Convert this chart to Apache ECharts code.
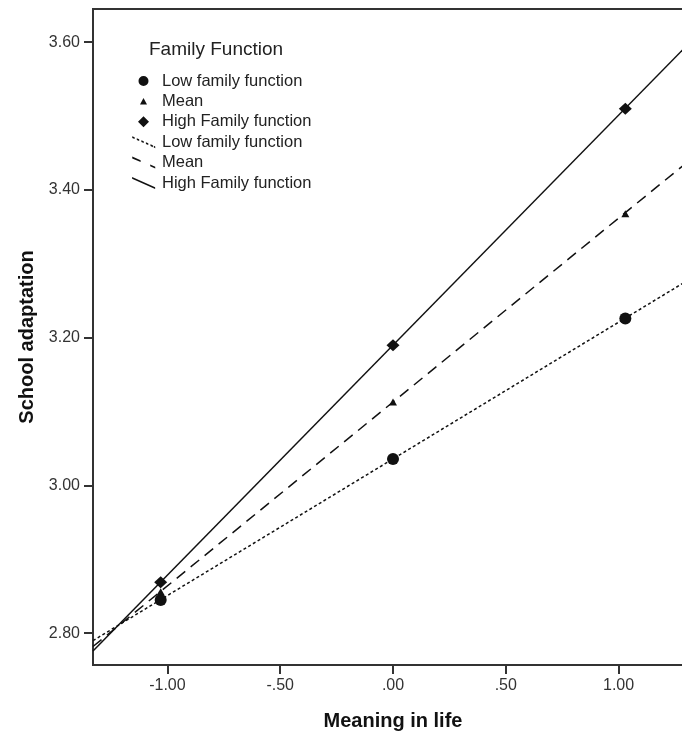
<!DOCTYPE html>
<html>
<head>
<meta charset="utf-8">
<script src="https://cdn.jsdelivr.net/npm/echarts@6/dist/echarts.min.js"></script>
<style>
html,body{margin:0;padding:0;background:#fff;}
#chart{width:682px;height:734px;}
</style>
</head>
<body>
<div id="chart"></div>
<script>
// ---- data ----
const meaningX = [-1.03, 0.00, 1.03];
const lowFamily = [2.845, 3.036, 3.226];
const meanFamily = [2.856, 3.113, 3.368];
const highFamily = [2.869, 3.190, 3.510];
const lineX = [-1.33, 1.33];
const lowLine = [2.790, 3.282];
const meanLine = [2.782, 3.444];
const highLine = [2.776, 3.604];
const xTicks = [-1.00, -0.50, 0.00, 0.50, 1.00];
const yTicks = [2.80, 3.00, 3.20, 3.40, 3.60];
const legendTitle = 'Family Function';
const legendLabels = {
  lowPt: 'Low family function',
  meanPt: 'Mean',
  highPt: 'High Family function',
  lowLn: 'Low family function',
  meanLn: 'Mean',
  highLn: 'High Family function'
};

const zip = (xs, ys) => xs.map((x, i) => [x, ys[i]]);
const FONT = "'Liberation Sans', Arial, sans-serif";
const INK = '#111';

// legend icon helpers (styling only)
const BOX = 'M0,0ZM27,12Z';
function slanted(segs) {
  const h = 1.0;
  let p = BOX;
  segs.forEach(([a, b]) => {
    const x0 = 27 * a, y0 = 12 * a, x1 = 27 * b, y1 = 12 * b;
    p += `M${x0},${y0 - h}L${x1},${y1 - h}L${x1},${y1 + h}L${x0},${y0 + h}Z`;
  });
  return 'path://' + p;
}
const icons = {
  lowPt: 'path://' + BOX + 'M8.5,6A5,5 0 1 0 18.5,6A5,5 0 1 0 8.5,6Z',
  meanPt: 'path://' + BOX + 'M13.5,2.5L17,9L10,9Z',
  highPt: 'path://' + BOX + 'M13.5,0.5L19,6L13.5,11.5L8,6Z',
  lowLn: slanted([[0.03, 0.13], [0.22, 0.32], [0.41, 0.51], [0.6, 0.7], [0.79, 0.89], [0.93, 0.99]]),
  meanLn: slanted([[0.03, 0.38], [0.78, 0.99]]),
  highLn: slanted([[0.02, 0.99]])
};

const chart = echarts.init(document.getElementById('chart'), null, {renderer: 'canvas'});

const lbl = v => v.toFixed(2).replace(/^(-?)0\./, '$1.');

chart.setOption({
  animation: false,
  backgroundColor: '#fff',
  title: {
    text: legendTitle,
    left: 149,
    top: 40,
    padding: 0,
    textStyle: {fontFamily: FONT, fontSize: 19, fontWeight: 'normal', color: '#222'}
  },
  legend: {
    orient: 'vertical',
    left: 130,
    top: 72.5,
    padding: 0,
    itemWidth: 27,
    itemHeight: 12,
    itemGap: 3.4,
    selectedMode: false,
    formatter: name => legendLabels[name],
    textStyle: {fontFamily: FONT, fontSize: 16.5, color: '#222', lineHeight: 17},
    data: ['lowPt', 'meanPt', 'highPt', 'lowLn', 'meanLn', 'highLn'].map(n => ({
      name: n, icon: icons[n], itemStyle: {color: INK, borderWidth: 0}
    }))
  },
  grid: {
    left: 93, top: 9, width: 600, height: 656,
    outerBoundsMode: 'none',
    containLabel: false,
    show: true, borderColor: '#333', borderWidth: 2, backgroundColor: '#fff'
  },
  xAxis: {
    type: 'value',
    min: lineX[0], max: lineX[1],
    name: 'Meaning in life',
    nameLocation: 'middle',
    nameGap: 46,
    nameTextStyle: {fontFamily: FONT, fontSize: 20, fontWeight: 'bold', color: '#111'},
    axisLine: {show: true, onZero: false, lineStyle: {color: '#333', width: 2}},
    axisTick: {show: true, length: 9, lineStyle: {color: '#333', width: 2}, customValues: xTicks},
    axisLabel: {margin: 13, fontFamily: FONT, fontSize: 16, color: '#333', customValues: xTicks, formatter: lbl},
    splitLine: {show: false}
  },
  yAxis: {
    type: 'value',
    min: 2.757, max: 3.645,
    name: 'School adaptation',
    nameLocation: 'middle',
    nameGap: 55,
    nameTextStyle: {fontFamily: FONT, fontSize: 20, fontWeight: 'bold', color: '#111'},
    axisLine: {show: true, onZero: false, lineStyle: {color: '#333', width: 2}},
    axisTick: {show: true, length: 9, lineStyle: {color: '#333', width: 2}, customValues: yTicks},
    axisLabel: {margin: 13, fontFamily: FONT, fontSize: 16, color: '#333', customValues: yTicks, formatter: lbl},
    splitLine: {show: false}
  },
  series: [
    {name: 'lowLn', type: 'line', data: zip(lineX, lowLine), symbol: 'none', z: 2,
     lineStyle: {color: INK, width: 1.5, type: [3, 2.5]}, itemStyle: {color: INK}},
    {name: 'meanLn', type: 'line', data: zip(lineX, meanLine), symbol: 'none', z: 2,
     lineStyle: {color: INK, width: 1.5, type: [11, 7]}, itemStyle: {color: INK}},
    {name: 'highLn', type: 'line', data: zip(lineX, highLine), symbol: 'none', z: 2,
     lineStyle: {color: INK, width: 1.5, type: 'solid'}, itemStyle: {color: INK}},
    {name: 'lowPt', type: 'scatter', data: zip(meaningX, lowFamily), symbol: 'circle', symbolSize: 12, z: 3,
     itemStyle: {color: INK, opacity: 1}},
    {name: 'meanPt', type: 'scatter', data: zip(meaningX, meanFamily), symbol: 'triangle', symbolSize: [8, 7], z: 3,
     itemStyle: {color: INK, opacity: 1}},
    {name: 'highPt', type: 'scatter', data: zip(meaningX, highFamily), symbol: 'diamond', symbolSize: [13, 12], z: 3,
     itemStyle: {color: INK, opacity: 1}}
  ]
});
</script>
</body>
</html>
